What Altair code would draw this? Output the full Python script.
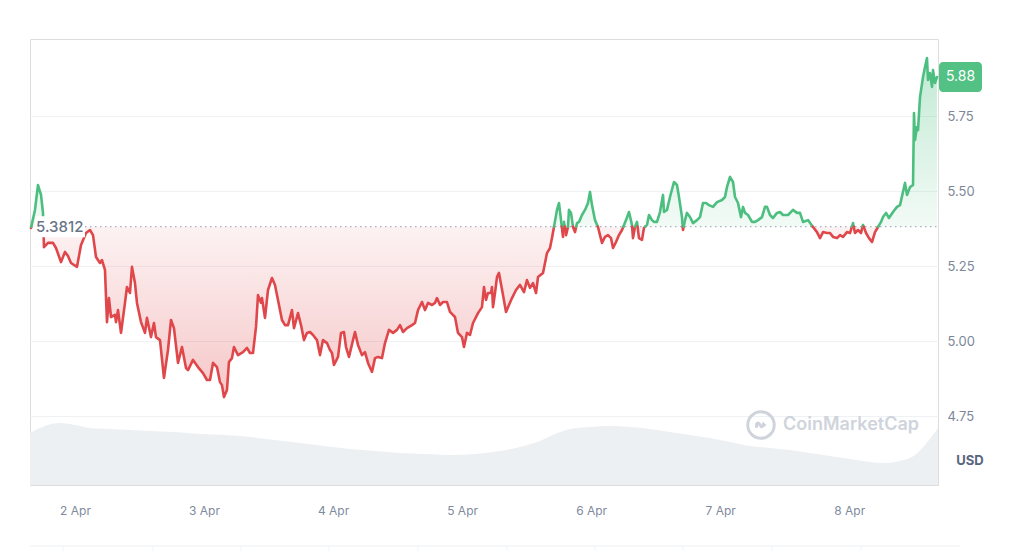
import pandas as pd
import altair as alt

BASE = 5.3812
LAST_LABEL = "5.88"

# price series: hours from 2 Apr 00:00, USD price
hours = [-8.18, -7.44, -6.88, -6.32, -5.95, -5.77, -5.02, -4.09, -3.53, -2.60, -1.86, -1.30, -0.74, 0.37, 1.12, 2.05, 2.79, 3.35, 3.91, 4.65, 5.02, 5.58, 5.77, 5.95, 6.32, 6.70, 7.44, 7.63, 8.00, 8.56, 9.30, 9.67, 10.23, 10.60, 11.16, 11.53, 12.28, 13.02, 13.39, 14.14, 14.69, 15.07, 15.81, 16.55, 17.30, 17.86, 18.41, 19.16, 19.90, 20.65, 21.02, 21.95, 22.88, 23.81, 24.55, 25.11, 25.67, 26.41, 26.97, 27.34, 27.71, 28.27, 28.64, 29.20, 29.57, 30.32, 31.25, 31.99, 32.55, 33.11, 33.67, 34.04, 34.60, 34.78, 35.34, 35.90, 36.64, 37.20, 37.76, 38.50, 39.06, 39.62, 40.36, 40.73, 41.48, 42.04, 42.59, 43.15, 43.71, 44.27, 45.01, 45.57, 46.13, 46.87, 47.43, 47.80, 48.17, 48.92, 49.48, 50.03, 50.41, 50.96, 51.71, 52.08, 52.64, 53.38, 53.94, 54.50, 55.24, 55.80, 56.36, 57.10, 57.66, 58.40, 59.15, 59.89, 60.45, 61.01, 61.75, 62.68, 63.24, 63.80, 64.54, 65.10, 65.66, 66.40, 66.96, 67.33, 67.89, 68.45, 69.19, 69.75, 70.68, 71.24, 71.98, 72.35, 72.91, 73.47, 74.03, 74.96, 75.70, 76.07, 76.45, 76.82, 77.38, 77.56, 77.75, 78.12, 78.49, 78.86, 79.61, 80.17, 80.72, 81.28, 82.03, 82.77, 83.51, 84.07, 84.63, 85.19, 85.75, 86.12, 87.05, 87.79, 88.35, 88.72, 89.09, 89.65, 90.02, 90.40, 90.77, 90.95, 91.33, 91.70, 91.88, 92.26, 92.63, 93.00, 93.37, 93.74, 94.30, 94.86, 95.42, 95.79, 96.16, 96.72, 97.28, 97.65, 98.02, 98.58, 99.14, 99.70, 100.07, 100.63, 101.18, 101.74, 102.49, 103.04, 103.60, 103.79, 104.16, 104.53, 104.90, 105.46, 105.83, 106.39, 106.76, 107.32, 107.69, 108.25, 108.81, 109.37, 109.55, 110.11, 110.67, 111.41, 111.97, 112.34, 112.90, 113.09, 113.46, 113.83, 114.39, 114.95, 115.69, 116.25, 116.81, 117.37, 117.92, 118.67, 119.41, 120.34, 120.90, 121.27, 121.83, 122.39, 122.76, 123.32, 123.88, 124.25, 124.62, 125.18, 125.92, 126.48, 127.04, 127.78, 128.34, 128.71, 129.27, 129.83, 130.57, 131.13, 131.69, 132.62, 133.55, 134.29, 134.85, 135.41, 136.34, 137.27, 138.01, 138.57, 139.13, 139.87, 140.43, 140.99, 141.73, 142.29, 142.85, 143.59, 144.15, 144.71, 145.08, 145.64, 146.20, 146.57, 147.13, 147.68, 148.24, 148.80, 149.36, 149.92, 150.29, 150.85, 151.40, 152.15, 152.89, 153.45, 154.01, 154.38, 154.75, 155.31, 155.87, 156.05, 156.24, 156.61, 156.80, 157.17, 157.73, 158.10, 158.47, 158.66, 159.03, 159.40, 159.59, 159.96, 160.33]

prices = [5.377, 5.437, 5.520, 5.487, 5.427, 5.313, 5.327, 5.327, 5.310, 5.263, 5.297, 5.283, 5.260, 5.247, 5.320, 5.360, 5.370, 5.353, 5.280, 5.260, 5.270, 5.237, 5.147, 5.063, 5.143, 5.080, 5.087, 5.063, 5.103, 5.027, 5.127, 5.180, 5.160, 5.247, 5.193, 5.127, 5.063, 5.027, 5.077, 5.013, 5.060, 5.013, 5.003, 4.877, 4.970, 5.070, 5.043, 4.927, 4.980, 4.910, 4.903, 4.937, 4.913, 4.893, 4.870, 4.870, 4.927, 4.913, 4.863, 4.853, 4.813, 4.837, 4.930, 4.943, 4.980, 4.953, 4.963, 4.977, 4.960, 4.960, 5.047, 5.153, 5.127, 5.143, 5.077, 5.170, 5.210, 5.187, 5.137, 5.070, 5.053, 5.053, 5.103, 5.043, 5.093, 5.053, 5.003, 5.027, 5.030, 5.020, 5.003, 4.953, 5.003, 4.993, 4.970, 4.960, 4.920, 4.947, 5.027, 5.030, 4.980, 4.947, 5.003, 5.030, 4.987, 4.953, 4.963, 4.927, 4.897, 4.943, 4.947, 4.943, 4.993, 5.037, 5.027, 5.037, 5.053, 5.030, 5.043, 5.053, 5.060, 5.103, 5.130, 5.103, 5.127, 5.120, 5.127, 5.143, 5.120, 5.130, 5.130, 5.097, 5.080, 5.027, 5.013, 4.980, 5.027, 5.020, 5.060, 5.093, 5.113, 5.180, 5.137, 5.160, 5.160, 5.180, 5.113, 5.160, 5.213, 5.227, 5.153, 5.097, 5.120, 5.143, 5.170, 5.187, 5.163, 5.203, 5.177, 5.193, 5.160, 5.213, 5.227, 5.293, 5.310, 5.343, 5.380, 5.437, 5.460, 5.403, 5.347, 5.397, 5.353, 5.380, 5.437, 5.427, 5.380, 5.363, 5.393, 5.397, 5.420, 5.437, 5.460, 5.497, 5.453, 5.403, 5.380, 5.353, 5.327, 5.347, 5.353, 5.343, 5.310, 5.330, 5.353, 5.370, 5.403, 5.430, 5.387, 5.343, 5.380, 5.397, 5.343, 5.337, 5.377, 5.387, 5.420, 5.403, 5.397, 5.397, 5.430, 5.487, 5.430, 5.437, 5.480, 5.530, 5.520, 5.480, 5.413, 5.370, 5.403, 5.427, 5.413, 5.393, 5.403, 5.413, 5.460, 5.460, 5.453, 5.447, 5.463, 5.470, 5.480, 5.513, 5.547, 5.530, 5.480, 5.460, 5.413, 5.447, 5.427, 5.420, 5.397, 5.397, 5.403, 5.413, 5.447, 5.447, 5.420, 5.410, 5.427, 5.430, 5.420, 5.420, 5.437, 5.427, 5.427, 5.397, 5.403, 5.380, 5.363, 5.343, 5.363, 5.360, 5.360, 5.347, 5.343, 5.353, 5.347, 5.363, 5.360, 5.393, 5.360, 5.370, 5.360, 5.387, 5.360, 5.343, 5.330, 5.363, 5.380, 5.397, 5.413, 5.427, 5.410, 5.430, 5.447, 5.453, 5.497, 5.527, 5.487, 5.513, 5.520, 5.760, 5.670, 5.713, 5.703, 5.813, 5.880, 5.913, 5.943, 5.870, 5.893, 5.847, 5.903, 5.860, 5.880]

# volume series (millions USD, approximate shape)
vol_hours = [-8.37, -5.58, -2.79, 0.0, 2.79, 6.51, 10.23, 13.95, 18.6, 23.25, 27.9, 32.55, 37.2, 41.85, 46.5, 51.15, 55.8, 60.45, 65.1, 69.75, 74.4, 79.05, 82.77, 86.49, 89.28, 92.07, 95.79, 99.51, 103.23, 106.95, 110.67, 114.39, 118.11, 121.83, 125.55, 129.27, 132.99, 136.71, 140.43, 144.15, 147.87, 150.66, 153.45, 156.24, 158.1, 160.52]
volumes = [130, 147.5, 155, 150, 142.5, 140, 137.5, 135, 132.5, 127.5, 125, 120, 112.5, 105, 97.5, 90, 85, 80, 77.5, 75, 77.5, 85, 95, 110, 127.5, 140, 145, 147.5, 145, 140, 132.5, 125, 117.5, 107.5, 97.5, 92.5, 87.5, 80, 72.5, 65, 57.5, 55, 60, 75, 100, 142.5]

x_ticks = [2, 3, 4, 5, 6, 7, 8]
y_ticks = [4.75, 5.00, 5.25, 5.50, 5.75]

assert len(hours) == len(prices), (len(hours), len(prices))
assert len(vol_hours) == len(volumes)

GREEN = "#4cbf80"
RED = "#df474b"
T0 = pd.Timestamp("2024-04-02 00:00")

def ts(h):
    return T0 + pd.Timedelta(hours=h)

# sequence with baseline-crossing points (for colour split)
seq = [(hours[0], prices[0])]
for (h1, p1), (h2, p2) in zip(zip(hours[:-1], prices[:-1]), zip(hours[1:], prices[1:])):
    if (p1 - BASE) * (p2 - BASE) < 0:
        hc = h1 + (BASE - p1) / (p2 - p1) * (h2 - h1)
        seq.append((hc, BASE))
    seq.append((h2, p2))

rows = []
gid = -1
cur = None
for a, b in zip(seq[:-1], seq[1:]):
    s = "up" if (a[1] + b[1]) / 2 >= BASE else "down"
    if s != cur:
        gid += 1
        cur = s
        rows.append({"t": ts(a[0]), "p": a[1], "g": gid, "side": s})
    rows.append({"t": ts(b[0]), "p": b[1], "g": gid, "side": s})
line_df = pd.DataFrame(rows)

area_df = pd.DataFrame({
    "t": [ts(h) for h, _ in seq],
    "up": [max(p, BASE) for _, p in seq],
    "down": [min(p, BASE) for _, p in seq],
    "base": [BASE] * len(seq),
})

vol_df = pd.DataFrame({"t": [ts(h) for h in vol_hours], "v": volumes})

x_dom = [alt.DateTime(year=2024, month=4, date=1, hours=15, minutes=38),
         alt.DateTime(year=2024, month=4, date=8, hours=16, minutes=31)]
x_scale = alt.Scale(domain=x_dom)
y_scale = alt.Scale(domain=[4.52, 6.0067], nice=False, zero=False)

x_axis = alt.Axis(values=[alt.DateTime(year=2024, month=4, date=d) for d in x_ticks],
                  format="%-d %b", labelFontSize=12, labelColor="#808a9d",
                  labelFont="Inter", domain=False, ticks=False, grid=False,
                  labelPadding=20, title=None)
X = alt.X("t:T", scale=x_scale, axis=x_axis)

volume = alt.Chart(vol_df).mark_area(color="#edf0f3", interpolate="monotone").encode(
    x=X,
    y=alt.Y("v:Q", scale=alt.Scale(domain=[0, 1115]), axis=None),
)

green_area = alt.Chart(area_df).mark_area(
    color=alt.Gradient(gradient="linear",
                       stops=[alt.GradientStop(color="rgba(76,191,128,0.07)", offset=0),
                              alt.GradientStop(color="rgba(76,191,128,0.34)", offset=1)],
                       x1=1, x2=1, y1=1, y2=0)
).encode(
    x=X,
    y=alt.Y("up:Q", scale=y_scale,
            axis=alt.Axis(orient="right", values=y_ticks, format=".2f", grid=True,
                          gridColor="#eff2f5", gridWidth=1, domain=False, ticks=False,
                          labelFontSize=13, labelColor="#7d8799", labelFont="Inter",
                          labelPadding=9, title=None)),
    y2="base:Q",
)

red_area = alt.Chart(area_df).mark_area(
    color=alt.Gradient(gradient="linear",
                       stops=[alt.GradientStop(color="rgba(223,71,75,0.07)", offset=0),
                              alt.GradientStop(color="rgba(223,71,75,0.30)", offset=1)],
                       x1=1, x2=1, y1=0, y2=1)
).encode(
    x=X,
    y=alt.Y("down:Q", scale=y_scale),
    y2="base:Q",
)

base_df = pd.DataFrame({"b": [BASE]})
base_rule = alt.Chart(base_df).mark_rule(color="#a6b0c3", strokeDash=[1.5, 3.5], strokeWidth=1.2).encode(
    y=alt.Y("b:Q", scale=y_scale),
    x=alt.value(0), x2=alt.value(908),
)

lines = alt.Chart(line_df).mark_line(strokeWidth=2.6, strokeJoin="round", strokeCap="round").encode(
    x=X,
    y=alt.Y("p:Q", scale=y_scale),
    detail="g:N",
    color=alt.Color("side:N", scale=alt.Scale(domain=["up", "down"], range=[GREEN, RED]), legend=None),
)

# base label with white background
base_lbl_df = pd.DataFrame({"hi": [BASE + 0.035], "lo": [BASE - 0.035], "b": [BASE], "txt": ["5.3812"]})
base_box = alt.Chart(base_lbl_df).mark_rect(color="white").encode(
    y=alt.Y("hi:Q", scale=y_scale), y2="lo:Q", x=alt.value(5), x2=alt.value(55))
base_txt = alt.Chart(base_lbl_df).mark_text(align="left", baseline="middle", fontSize=15,
                                            font="Inter", fontWeight=500, color="#6b7587").encode(
    y=alt.Y("b:Q", scale=y_scale), x=alt.value(6), text="txt:N")

last_p = prices[-1]
last_df = pd.DataFrame({"hi": [last_p + 0.05], "lo": [last_p - 0.05], "p": [last_p], "txt": [LAST_LABEL]})
last_box = alt.Chart(last_df).mark_rect(color="#52c183", cornerRadius=4).encode(
    y=alt.Y("hi:Q", scale=y_scale), y2="lo:Q", x=alt.value(909), x2=alt.value(952))
last_txt = alt.Chart(last_df).mark_text(align="center", baseline="middle", fontSize=14,
                                        font="Inter", color="white", fontWeight=400).encode(
    y=alt.Y("p:Q", scale=y_scale), x=alt.value(930.5), text="txt:N")

one = pd.DataFrame({"k": [0]})
usd = alt.Chart(one).mark_text(text="USD", fontSize=13, font="Inter", fontWeight="bold",
                               color="#58667e", align="center", baseline="middle").encode(
    x=alt.value(940), y=alt.value(422))
wm_text = alt.Chart(one).mark_text(text="CoinMarketCap", fontSize=18, font="Inter", fontWeight=600,
                                   color="#cfd4dc", align="left", baseline="middle").encode(
    x=alt.value(753), y=alt.value(386))
wm_ring = alt.Chart(one).mark_point(shape="circle", size=700, filled=False, color="#cfd4dc",
                                    strokeWidth=3, opacity=1).encode(
    x=alt.value(731), y=alt.value(386))
wm_m = alt.Chart(one).mark_point(shape="M -0.55 0.35 L -0.55 -0.1 Q -0.3 -0.45 -0.1 0.05 Q 0.1 0.45 0.3 -0.1 L 0.55 0.1",
                                 size=260, filled=False, color="#cfd4dc", strokeWidth=3, opacity=1).encode(
    x=alt.value(731), y=alt.value(386))

# navigator strip below
nav_line = alt.Chart(one).mark_rule(color="#eef0f3", strokeWidth=1).encode(
    x=alt.value(0), x2=alt.value(930), y=alt.value(507))
nav_ticks = [alt.Chart(one).mark_rule(color="#f1f3f5", strokeWidth=1).encode(
    x=alt.value(v), y=alt.value(507), y2=alt.value(525)) for v in [33, 123, 211, 299, 388, 477, 565, 653, 742, 831]]

price_layer = alt.layer(green_area, red_area, base_rule, lines, base_box, base_txt,
                        last_box, last_txt)

chart = alt.layer(volume, price_layer, usd, wm_ring, wm_m, wm_text, nav_line, *nav_ticks).resolve_scale(
    y="independent"
).properties(
    width=908, height=446,
    padding={"left": 22, "top": 31, "right": 78, "bottom": 66},
    autosize=alt.AutoSizeParams(type="none"),
).configure_view(stroke="#eff2f5").configure(background="white")

chart.save("out.html", embed_options={"renderer": "svg", "actions": False})
